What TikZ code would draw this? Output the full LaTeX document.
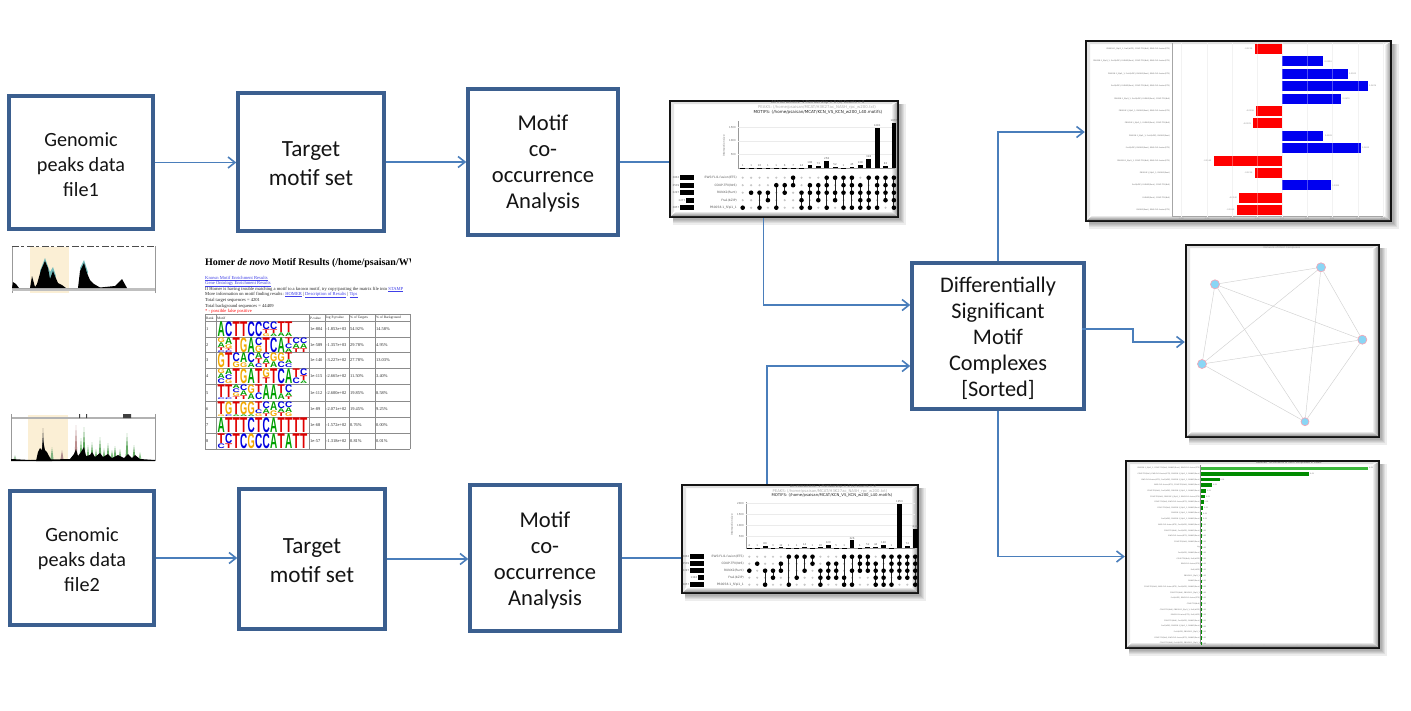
\documentclass[tikz,border=0pt]{standalone}
\usepackage{fontspec}
\usepackage{graphicx}
\setmainfont{Carlito}
\newfontfamily\dvfont{DejaVu Sans}
\newfontfamily\serfont{Liberation Serif}
\newfontfamily\logofont{Liberation Sans}
\usetikzlibrary{arrows.meta,calc}
\definecolor{boxblue}{HTML}{3B5F8F}
\definecolor{linkblue}{HTML}{4A7EBB}
\definecolor{lA}{HTML}{00A000}
\definecolor{lC}{HTML}{0000E0}
\definecolor{lG}{HTML}{F2A900}
\definecolor{lT}{HTML}{E00000}
\definecolor{hlband}{HTML}{FBEFD5}
\definecolor{barred}{HTML}{FF0000}
\definecolor{barblue}{HTML}{0000F0}
\definecolor{bargreen}{HTML}{008A00}
\definecolor{barlight}{HTML}{3CB83C}
\definecolor{nodeblue}{HTML}{8AD6F5}
\definecolor{nodepink}{HTML}{F0A8B8}
\definecolor{lk}{HTML}{4040E8}
\tikzset{
  flowbox/.style={draw=boxblue,line width=3.4pt,fill=white,inner sep=0pt},
  boxtext/.style={align=center,inner sep=0pt,text=black!92},
  link/.style={draw=linkblue,line width=1.6pt,-{Straight Barb[length=7pt,width=11pt,line width=1.6pt]}},
  plain/.style={draw=linkblue,line width=1.6pt},
  shotframe/.style={draw=black!92,line width=2.4pt,fill=white,inner sep=0pt},
  tl/.style={inner sep=0pt,font=\dvfont\fontsize{3}{3.4}\selectfont,text=black!65},
  tk/.style={inner sep=0pt,font=\dvfont\fontsize{2.6}{3}\selectfont,text=black!60},
  wl/.style={inner sep=0pt,font=\serfont\fontsize{4.6}{5}\selectfont,text=black!85},
  tc/.style={inner sep=0pt,anchor=west,font=\serfont\fontsize{4.4}{5}\selectfont,text=black!85},
  net/.style={circle,draw=nodepink,line width=.7pt,fill=nodeblue,minimum size=9pt,inner sep=0pt},
}
\newcommand\lnk[1]{\textcolor{lk}{\vtop{\hbox{#1}\kern.25pt\hrule height .2pt}}}
\newcommand\shot[5]{%
  \foreach \k in {1,...,6}{\fill[black,opacity=.07] (#2+3,#3+3) rectangle ({#4+\k*1.25},{#5+\k*1.25});}
  \pgfmathsetmacro\sw{#4-#2}\pgfmathsetmacro\sh{#5-#3}
  \node[shotframe,minimum width=\sw pt,minimum height=\sh pt] (#1) at ({(#2+#4)/2},{(#3+#5)/2}) {};
  \shade[top color=white,bottom color=black!45] (#2+1,#5-1) -- (#4-1,#5-1) -- (#4-7,#5-6) -- (#2+7,#5-6) -- cycle;
  \shade[left color=white,right color=black!38] (#4-1,#3+1) -- (#4-1,#5-1) -- (#4-7,#5-6) -- (#4-7,#3+5) -- cycle;
  \fill[black!12] (#2+1,#3+1) -- (#4-1,#3+1) -- (#4-7,#3+3) -- (#2+4,#3+3) -- cycle;
  \fill[black!10] (#2+1,#3+1) -- (#2+4,#3+3) -- (#2+4,#5-6) -- (#2+1,#5-1) -- cycle;
}
\newcommand\upsetcols[7]{%
  \foreach \vv/\ra/\rb/\ds [count=\ci from 0] in {#7}{
    \pgfmathsetmacro\cx{#1+#2*\ci}
    \pgfmathsetmacro\bh{\vv*#6}
    \fill[black] ({\cx-2.4},#5) rectangle ({\cx+2.4},{#5-\bh});
    \node[tk] at (\cx,{#5-\bh-2.4}) {\vv};
    \foreach \rr in {1,...,5}{\fill[black!22] (\cx,{#3+#4*(\rr-1)}) circle[radius=1.2pt];}
    \draw[black!85,line width=1pt] (\cx,{#3+#4*(\ra-1)}) -- (\cx,{#3+#4*(\rb-1)});
    \foreach \rr in \ds {\fill[black] (\cx,{#3+#4*(\rr-1)}) circle[radius=2.3pt];}
  }
}
\newcommand\logo[2]{%
  \foreach \col [count=\ci from 0] in {#2}{
    \xdef\acc{#1}
    \pgfmathsetmacro\lx{217.5+7.5*\ci}
    \foreach \LL/\hh in \col {
      \pgfmathsetmacro\hs{\hh-.35}
      \node[anchor=north west,inner sep=0pt,outer sep=0pt] at (\lx,\acc)
        {\resizebox{7.2pt}{\hs pt}{\color{l\LL}\logofont\bfseries \LL}};
      \pgfmathsetmacro\tmpacc{\acc+\hh}
      \xdef\acc{\tmpacc}
    }
  }
}
\def\mS{PB0058.1\_Sfpi1\_1}
\def\mF{Fra1(bZIP)}
\def\mR{RUNX2(Runt)}
\def\mC{COUP-TFII(Nr6)}
\def\mE{EWS:FLI1-fusion(ETS)}
\begin{document}
\begin{tikzpicture}[x=1pt,y=-1pt]
\useasboundingbox (0,0) rectangle (1411,710);
\fill[white] (0,0) rectangle (1411,710);

% --- flow boxes
\node[flowbox,minimum width=144pt,minimum height=133pt] (gen1) at (81,162.5) {};
\node[flowbox,minimum width=146pt,minimum height=138pt] (tar1) at (311,162) {};
\node[flowbox,minimum width=150pt,minimum height=146pt] (mot1) at (543,162) {};
\node[flowbox,minimum width=144pt,minimum height=134pt] (gen2) at (82,558) {};
\node[flowbox,minimum width=146pt,minimum height=140pt] (tar2) at (312,559) {};
\node[flowbox,minimum width=150pt,minimum height=146pt] (mot2) at (545,558) {};
\node[flowbox,minimum width=172pt,minimum height=146pt] (diff) at (998,336) {};
\node[boxtext,font=\fontsize{20.2}{25}\selectfont] (gen1t) at ([yshift=-2pt]gen1.center) {Genomic\\peaks data\\file1};
\node[boxtext,font=\fontsize{23.2}{29}\selectfont] (tar1t) at ([yshift=-2pt]tar1.center) {Target\\motif set};
\node[boxtext,font=\fontsize{22.6}{26}\selectfont] (mot1t) at ([yshift=-2pt]mot1.center) {Motif\\co-\\occurrence\\Analysis};
\node[boxtext,font=\fontsize{20.2}{25}\selectfont] (gen2t) at ([yshift=-2pt]gen2.center) {Genomic\\peaks data\\file2};
\node[boxtext,font=\fontsize{23.2}{29}\selectfont] (tar2t) at ([yshift=-2pt]tar2.center) {Target\\motif set};
\node[boxtext,font=\fontsize{22.6}{26}\selectfont] (mot2t) at ([yshift=-2pt]mot2.center) {Motif\\co-\\occurrence\\Analysis};
\node[boxtext,font=\fontsize{22.3}{26}\selectfont] (difft) at ([yshift=-2pt]diff.center) {Differentially\\Significant\\Motif\\Complexes\\{[Sorted]}};

% --- screenshot frames
\shot{up1}{670}{101}{898}{217}
\shot{up2}{682}{485}{918}{593}
\shot{bars}{1086}{41}{1391}{221}
\shot{netw}{1186}{245}{1379}{437}
\shot{grn}{1126}{461}{1379}{648}

% --- connectors
\draw[link] (gen1.east) -- (gen1.east -| tar1.west);
\draw[link] (tar1.east) -- (tar1.east -| mot1.west);
\draw[plain] (mot1.east) -- (mot1.east -| up1.west);
\draw[link] (gen2.east) -- (gen2.east -| tar2.west);
\draw[link] (tar2.east) -- (tar2.east -| mot2.west);
\draw[plain] (mot2.east) -- (mot2.east -| up2.west);
\draw[link] ([xshift=-20.5pt]up1.south) |- ([yshift=31pt]diff.west);
\draw[link] ([xshift=-33pt]up2.north) |- ([yshift=-30pt]diff.west);
\draw[link] (diff.north) |- ([yshift=-1pt]bars.west);
\coordinate (knee) at (1133,329);
\draw[link] ([yshift=7pt,xshift=-4pt]diff.east) -- (knee) -- (knee |- 0,342) -- (netw.west |- 0,342);
\draw[link] (diff.south) |- ([yshift=-2pt]grn.west);

% --- upset plot 1
\node[tl,font=\dvfont\fontsize{3.7}{4}\selectfont,text=black!60] (u1t1) at (818,102.5) {All Interactions: 1 Membership > 0 (1) Counts > 0};
\node[tl,font=\dvfont\fontsize{3.9}{4}\selectfont,text=black!32] (u1t2) at (817,107) {PEAKS: (/home/psaisan/MCAT/H3K27ac\_NASH\_rpc\_w200.txt)};
\node[tl,font=\dvfont\fontsize{4.1}{4.5}\selectfont,text=black!85] (u1t3) at (818,112) {MOTIFS: (/home/psaisan/MCAT/KCN\_VS\_KCN\_w200\_L40.motifs)};
\draw[black!40,line width=.4pt] (738,121) -- (738,168.3) -- (895,168.3);
\foreach \tv/\ty in {500/154.6,1000/141,1500/127.3}{
  \draw[black!8,line width=.3pt] (738,\ty) -- (895,\ty);
  \node[tk,anchor=east] at (736,\ty) {\tv};
}
\node[tk,rotate=90] (u1y) at (724,146) {Intersection size};
\upsetcols{742.7}{8.4}{177.7}{7.5}{168.3}{.0273}{1/5/5/{5},1/3/3/{3},26/3/5/{3,5},1/3/4/{3,4},1/2/5/{2,5},6/2/3/{2,3},7/1/2/{1,2},24/3/5/{3,4,5},108/2/5/{2,3,5},73/2/4/{2,3,4},258/1/5/{1,2,3,5},52/1/4/{1,3,4},1/1/5/{1,2,3,5},45/1/5/{1,2,3,5},138/2/5/{2,3,4,5},328/1/5/{1,3,4,5},1481/1/5/{1,2,3,5},83/1/4/{1,2,3,4},1670/1/5/{1,2,3,4,5}}
\foreach \nm/\sv/\ln [count=\ci from 0] in {{\mE}/3863/14,{\mC}/3539/14,{\mR}/3297/14,{\mF}/2277/8,{\mS}/3857/14}{
  \pgfmathsetmacro\ry{177.7+7.5*\ci}
  \node[tl,anchor=east] at (737,\ry) {\nm};
  \fill[black] ({694-\ln},{\ry-2.4}) rectangle (694,{\ry+2.4});
  \node[tk,anchor=east] at ({694-\ln-.5},\ry) {\sv};
}

% --- upset plot 2
\node[tl,font=\dvfont\fontsize{3.4}{4}\selectfont,text=black!60] (u2t1) at (833,486.5) {All Interactions: 1 Membership > 0 (1) Counts > 0};
\node[tl,font=\dvfont\fontsize{3.8}{4}\selectfont,text=black!32] (u2t2) at (830,491) {PEAKS: (/home/psaisan/MCAT/H3K27ac\_NASH\_rpc\_w200.txt)};
\node[tl,font=\dvfont\fontsize{3.85}{4.5}\selectfont,text=black!85] (u2t3) at (832,495.7) {MOTIFS: (/home/psaisan/MCAT/KCN\_VS\_KCN\_w200\_L40.motifs)};
\draw[black!40,line width=.4pt] (746,502) -- (746,547.7) -- (915,547.7);
\foreach \tv/\ty in {500/536.6,1000/525.5,1500/514.4,2000/503.3}{
  \draw[black!8,line width=.3pt] (746,\ty) -- (915,\ty);
  \node[tk,anchor=east] at (744,\ty) {\tv};
}
\node[tk,rotate=90] (u2y) at (732,525) {Intersection size};
\upsetcols{749.3}{7.9}{556.7}{7}{547.7}{.0222}{4/3/3/{3},1/2/2/{2},89/3/5/{3,5},3/3/4/{3,4},12/2/3/{2,3},1/1/5/{1,5},1/1/4/{1,4},14/1/3/{1,3},1/1/2/{1,2},10/3/5/{3,4,5},120/2/4/{2,3,4},5/2/4/{2,3,4},1/1/5/{1,4,5},326/1/5/{1,3,5},1/1/3/{1,2,3},52/1/3/{1,2,3},44/2/5/{2,3,4,5},140/1/5/{1,3,4,5},1/1/5/{1,2,3,5},1953/1/4/{1,2,3,4},74/1/4/{1,2,3,4},850/1/5/{1,2,3,4,5}}
\foreach \nm/\sv/\ln [count=\ci from 0] in {{\mE}/3863/14,{\mC}/3539/14,{\mR}/3297/14,{\mF}/1346/6,{\mS}/3857/14}{
  \pgfmathsetmacro\ry{556.7+7*\ci}
  \node[tl,anchor=east] at (744,\ry) {\nm};
  \fill[black] ({704-\ln},{\ry-2.3}) rectangle (704,{\ry+2.3});
  \node[tk,anchor=east] at ({704-\ln-.5},\ry) {\sv};
}

% --- diverging bars
\draw[black!35,line width=.4pt] (1172,43) -- (1172,216.5) -- (1384,216.5);
\foreach \gx in {1181,1207,1232,1257,1282,1307,1332,1358,1383}{
  \draw[black!7,line width=.3pt] (\gx,43) -- (\gx,216.5);
}
\foreach \xe/\cc/\vt/\lb [count=\ci from 0] in {
  1254.5/barred/-0.0219/{\mS, \mF, \mC, \mE},
  1323/barblue/0.0324/{\mS, \mF, \mR, \mC, \mE},
  1347.5/barblue/0.0522/{\mS, \mF, \mR, \mE},
  1367.5/barblue/0.0676/{\mF, \mR, \mC, \mE},
  1341/barblue/0.0470/{\mS, \mF, \mR, \mC},
  1256/barred/-0.0206/{\mS, \mR, \mE},
  1253/barred/-0.0229/{\mS, \mR, \mC},
  1323.3/barblue/0.0328/{\mS, \mF, \mR},
  1360.5/barblue/0.0620/{\mF, \mR, \mE},
  1213.5/barred/-0.0545/{\mS, \mC, \mE},
  1254.5/barred/-0.0219/{\mS, \mR},
  1330.5/barblue/0.0385/{\mF, \mR, \mC},
  1239/barred/-0.0340/{\mR, \mC},
  1236.5/barred/-0.0360/{\mR, \mE}}{
  \pgfmathsetmacro\ry{49+12.4*\ci}
  \fill[\cc] (1282,{\ry-5}) rectangle (\xe,{\ry+5});
  \node[tk,anchor=east,font=\dvfont\fontsize{1.85}{2.3}\selectfont] at (1170,\ry) {\lb};
  \ifdim\xe pt<1282pt
    \node[tk,anchor=east,font=\dvfont\fontsize{2}{2.3}\selectfont,text=black!45] at ({\xe-2},\ry) {\vt};
  \else
    \node[tk,anchor=west,font=\dvfont\fontsize{2}{2.3}\selectfont,text=black!45] at ({\xe+1.5},\ry) {\vt};
  \fi
}
\foreach \gx/\gl in {1181/-0.08,1207/-0.06,1232/-0.04,1257/-0.02,1282/0.00,1307/0.02,1332/0.04,1358/0.06,1383/0.08}{
  \draw[white,opacity=.3,line width=.4pt] (\gx,43) -- (\gx,216.5);
  \node[tk,font=\dvfont\fontsize{2}{2.3}\selectfont,text=black!40] at (\gx,218.3) {\gl};
}

% --- network
\node[net] (na) at (1215,284.3) {};
\node[net] (nb) at (1321,267.3) {};
\node[net] (nc) at (1362.3,339.7) {};
\node[net,minimum size=8pt] (nd) at (1305,421.7) {};
\node[net] (ne) at (1202,364) {};
\foreach \p/\q in {na/nb,na/nc,na/nd,na/ne,nb/nc,nb/nd,nb/ne,nc/nd,nc/ne,nd/ne}{
  \draw[black!18,line width=.45pt] (\p) -- (\q);
}
\node[tk,text=black!40] (ntitle) at (1282,248) {Network of Motif Complexes};

% --- green bars
\node[tk,text=black!70] (gt) at (1289,463.2) {Relative ~ Occurrence of Motif Complexes in Peaks};
\draw[black!45,line width=.5pt] (1200.7,465) -- (1200.7,644);
\foreach \gx in {1232,1264,1297,1328,1361}{\fill[black!30] (\gx,645) circle[radius=.4pt];}
\foreach \xe/\lb [count=\ci from 0] in {
  1368/{\mS, \mC, \mR, \mE},
  1309/{\mC, \mE, \mS, \mR},
  1219.5/{\mE, \mF, \mS, \mR},
  1212/{\mE, \mC, \mR},
  1206/{\mC, \mF, \mS, \mR},
  1205/{\mC, \mS, \mE},
  1203.5/{\mC, \mE, \mR},
  1203/{\mC, \mS, \mR},
  1202/{\mS, \mR},
  1202/{\mF, \mS, \mR},
  1201.2/{\mE, \mF, \mR},
  1201.2/{\mC, \mF, \mR},
  1201.2/{\mE, \mR},
  1201.2/{\mC, \mR},
  1201.2/{Lig},
  1201.2/{\mF, \mR},
  1201.2/{\mC, \mF},
  1201.2/{\mE},
  1201.2/{\mF},
  1201.2/{\mS},
  1201.2/{\mR},
  1201.2/{\mC, \mE, \mF, \mR},
  1201.2/{\mC, \mS},
  1201.2/{\mF, \mE},
  1201.2/{\mC},
  1201.2/{\mC, \mS, \mF},
  1201.2/{\mE, \mF},
  1201.2/{\mC, \mF, \mR},
  1201.2/{\mF, \mS, \mR},
  1201.2/{\mF, \mS},
  1201.2/{\mC, \mE, \mR},
  1201.2/{\mC, \mF, \mS}}{
  \pgfmathsetmacro\ry{468.3+5.65*\ci}
  \ifnum\ci=0\fill[barlight] (1201,{\ry-1.8}) rectangle (\xe,{\ry+1.8});
  \else\fill[bargreen] (1201,{\ry-1.8}) rectangle (\xe,{\ry+1.8});\fi
  \node[tk,anchor=east,font=\dvfont\fontsize{1.75}{2.2}\selectfont] at (1200,\ry) {\lb};
  \node[tk,anchor=west,font=\dvfont\fontsize{1.75}{2.2}\selectfont] at ({\xe+1},\ry) {0.01};
}

% --- Homer results page
\begin{scope}
\clip (200,250) rectangle (410,455);
\node[anchor=west,inner sep=0pt,font=\serfont\bfseries\fontsize{10}{12}\selectfont] (hometitle) at (205,263.5) {Homer \textit{de novo} Motif Results (/home/psaisan/WW};
\node[wl,anchor=west] (l1) at (205,278.5) {\lnk{Known Motif Enrichment Results}};
\node[wl,anchor=west] (l2) at (205,284) {\lnk{Gene Ontology Enrichment Results}};
\node[wl,anchor=west] (l3) at (205,289.2) {If Homer is having trouble matching a motif to a known motif, try copy/pasting the matrix file into \lnk{STAMP}};
\node[wl,anchor=west] (l4) at (205,294.7) {More information on motif finding results: \lnk{HOMER} | \lnk{Description of Results} | \lnk{Tips}};
\node[wl,anchor=west] (l5) at (205,300.2) {Total target sequences = 4201};
\node[wl,anchor=west] (l6) at (205,306) {Total background sequences = 44409};
\node[wl,anchor=west,text=red] (l7) at (205,311.7) {* - possible false positive};
\end{scope}
\foreach \yy in {314,321.5,337,352.5,368.5,384.5,401,417,433,449}{\draw[black!45,line width=.5pt] (205,\yy) -- (410,\yy);}
\foreach \xx in {205,216,309,325,349,375,410}{\draw[black!45,line width=.5pt] (\xx,314) -- (\xx,449);}
\foreach \xx/\tt in {206/Rank,217/Motif,310/P-value,326/log P-pvalue,350/\% of Targets,376/\% of Background}{
  \node[tc,font=\serfont\fontsize{3.5}{4}\selectfont] at (\xx,317.8) {\tt};
}
\foreach \yy/\nn/\pv/\lp/\ta/\bg in {
  329/1/1e-804/-1.853e+03/54.92\%/14.58\%,
  345/2/1e-589/-1.357e+03/29.78\%/4.95\%,
  360.5/3/1e-140/-3.227e+02/27.78\%/13.03\%,
  376.5/4/1e-115/-2.665e+02/11.50\%/3.40\%,
  393/5/1e-112/-2.600e+02/19.85\%/8.58\%,
  409/6/1e-89/-2.071e+02/19.45\%/9.25\%,
  425/7/1e-68/-1.572e+02/0.76\%/0.00\%,
  441/8/1e-57/-1.318e+02/0.81\%/0.01\%}{
  \node[tc] at (206,\yy) {\nn};
  \node[tc] at (310,\yy) {\pv};
  \node[tc] at (326,\yy) {\lp};
  \node[tc] at (350,\yy) {\ta};
  \node[tc] at (376,\yy) {\bg};
}
\logo{322}{{A/15},{C/15},{T/15},{T/15},{C/15},{C/15},{C/8,T/4,G/3},{C/8,T/4,A/3},{T/11,A/4},{T/11,A/4}}
\logo{338}{{G/5,A/5,T/3,C/2},{A/7,G/4,T/2,C/2},{T/15},{G/15},{A/15},{C/8,G/7},{T/15},{C/15},{A/15},{T/6,C/5,A/4},{C/6,A/5,T/4},{C/6,A/5,T/4}}
\logo{353}{{G/15},{T/15},{C/9,G/6},{A/10,G/5},{C/10,A/5},{A/6,T/5,C/4},{C/6,A/5,T/4},{G/9,A/6},{G/9,C/6},{T/7,A/4,C/4}}
\logo{369}{{G/5,A/5,C/5},{A/6,C/5,G/4},{T/15},{G/15},{A/15},{T/15},{G/9,T/6},{T/15},{C/15},{A/15},{T/9,C/6},{C/7,T/5,A/3}}
\logo{385}{{T/13,C/2},{T/13,C/2},{A/4,C/4,G/4,T/3},{C/6,A/5,T/4},{G/9,A/6},{T/8,C/7},{A/15},{A/15},{T/9,A/6},{C/8,A/4,T/3}}
\logo{402}{{T/13,G/2},{G/13,C/2},{T/13,A/2},{G/13,A/2},{G/13,A/2},{T/8,C/4,G/3},{C/7,A/5,T/3},{A/9,G/6},{C/7,A/4,T/4},{C/6,A/5,G/4}}
\logo{418}{{A/15},{T/15},{T/15},{T/15},{C/15},{T/15},{C/15},{A/15},{T/15},{T/15},{T/15},{T/15}}
\logo{434}{{T/10,C/5},{C/10,T/5},{T/15},{C/15},{G/15},{C/15},{C/15},{A/15},{T/15},{A/15},{T/15},{T/15}}

% --- genome tracks
\fill[hlband] (30,247) rectangle (69,293);
\draw[black!40,line width=.8pt] (12,293) -- (12,246) (155,293) -- (155,246);
\draw[black!70,line width=1.1pt,dash pattern=on 7pt off 2pt on 3pt off 3pt] (12,246.5) -- (155,246.5);
\fill[black!25] (12,287.5) rectangle (155,291);
\fill[teal!55] (40,271) -- (45,258) -- (50,272) -- (53,267) -- (56,276) -- (50,284) -- (41,284) -- cycle (80,268) -- (84,260) -- (88,272) -- (84,284) -- cycle;
\fill[black] (12,288) -- (13,282) -- (16,284) -- (19,288) -- (30,288) -- (32,276) -- (35,287) -- (37,284) -- (41,270) -- (45,261) -- (48,268) -- (50,279) -- (53,271) -- (55,276) -- (58,283) -- (62,285) -- (66,288) -- (78,288) -- (80,271) -- (84,263) -- (87,273) -- (90,280) -- (94,284) -- (100,287.5) -- (115,286) -- (122,279) -- (127,288) -- cycle;

\fill[hlband] (28,415) rectangle (68,461);
\fill[black!30] (11,417) rectangle (155,419);
\fill[black!75] (79,414) rectangle (80,418) (86,414) rectangle (87,418) (123,414) rectangle (131,418);
\draw[black!40,line width=.7pt] (11,461) -- (11,414) (155,461) -- (155,414);
\foreach \sx/\sy/\sc in {15/455/green!40!black!35,43/428/black!70,52/447/green!40!black!50,62/450/red!30!black!45,76/425/red!40!black!45,81/438/green!50!black!60,84/427/green!45!black!65,88/445/green!50!black!50,92/442/green!45!black!60,96/449/green!50!black!50,100/437/green!45!black!60,104/448/green!50!black!50,108/443/green!45!black!60,112/450/green!50!black!50,115/446/green!45!black!60,120/449/green!50!black!50,127/433/green!45!black!60,134/445/green!45!black!60,140/452/green!50!black!45}{
  \fill[\sc] ({\sx-1.6},460) -- (\sx,\sy) -- ({\sx+1.6},460) -- cycle;
}
\fill[black] (36,461) -- (38,452) -- (40,448) -- (42,450) -- (43,440) -- (45,450) -- (47,452) -- (49,456) -- (52,461) -- cycle;
\fill[black] (11,461) -- (11,459) -- (30,460) -- (70,459) -- (74,454) -- (76,449) -- (78,456) -- (81,452) -- (84,447) -- (86,456) -- (90,455) -- (92,452) -- (95,457) -- (100,453) -- (103,457) -- (108,454) -- (112,458) -- (118,455) -- (124,458) -- (128,454) -- (132,458) -- (135,455) -- (140,459) -- (155,460) -- (155,461) -- cycle;
\end{tikzpicture}
\end{document}
